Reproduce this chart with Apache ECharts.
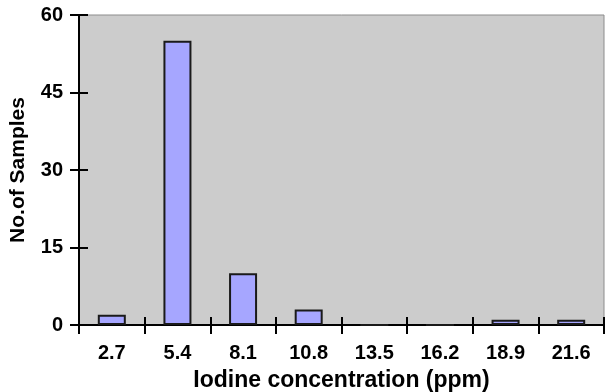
<!DOCTYPE html>
<html>
<head>
<meta charset="utf-8">
<script src="https://cdn.jsdelivr.net/npm/echarts@6/dist/echarts.min.js"></script>
<style>
  html, body { margin: 0; padding: 0; background: #fff; }
  #main { width: 606px; height: 392px; }
</style>
</head>
<body>
<div id="main"></div>
<script>
var categories = ['2.7', '5.4', '8.1', '10.8', '13.5', '16.2', '18.9', '21.6'];
var samples = [2, 55, 10, 3, 0, 0, 1, 1];
var yTicks = [0, 15, 30, 45, 60];

var chart = echarts.init(document.getElementById('main'));
var font = '"Liberation Sans", Arial, sans-serif';

var option = {
    animation: false,
    grid: {
        left: 79, right: 2, top: 15, bottom: 67,
        outerBoundsMode: 'none',
        containLabel: false,
        show: true,
        backgroundColor: '#cccccc',
        borderColor: '#8c8c8c',
        borderWidth: 1
    },
    xAxis: [{
        type: 'category',
        data: categories,
        position: 'bottom',
        name: 'Iodine concentration (ppm)',
        nameLocation: 'middle',
        nameGap: 44,
        nameTextStyle: { color: '#000', fontSize: 23, fontWeight: 'bold', fontFamily: font },
        axisLine: { lineStyle: { color: '#000', width: 2 } },
        axisTick: { show: true, inside: false, length: 9, lineStyle: { color: '#000', width: 2 } },
        axisLabel: { color: '#000', fontSize: 20, fontWeight: 'bold', fontFamily: font, margin: 18 },
        splitLine: { show: false }
    }, {
        // second copy only to draw the upper half of the crossing ticks
        type: 'category',
        data: categories,
        position: 'bottom',
        axisLine: { show: false },
        axisTick: { show: true, inside: true, length: 8, lineStyle: { color: '#000', width: 2 } },
        axisLabel: { show: false }
    }],
    yAxis: [{
        type: 'value',
        min: yTicks[0],
        max: yTicks[yTicks.length - 1],
        interval: 15,
        name: 'No.of Samples',
        nameLocation: 'middle',
        nameGap: 50,
        nameTextStyle: { color: '#000', fontSize: 21, fontWeight: 'bold', fontFamily: font },
        axisLine: { show: true, lineStyle: { color: '#000', width: 2 } },
        axisTick: { show: true, inside: false, length: 9, lineStyle: { color: '#000', width: 2 } },
        axisLabel: { color: '#000', fontSize: 20, fontWeight: 'bold', fontFamily: font, margin: 16 },
        splitLine: { show: false }
    }, {
        type: 'value',
        min: yTicks[0],
        max: yTicks[yTicks.length - 1],
        interval: 15,
        position: 'left',
        axisLine: { show: false },
        axisTick: { show: true, inside: true, length: 9, lineStyle: { color: '#000', width: 2 } },
        axisLabel: { show: false },
        splitLine: { show: false }
    }],
    series: [{
        type: 'bar',
        data: samples,
        barWidth: 28,
        itemStyle: { color: '#a6a6ff', borderColor: '#1a1a1a', borderWidth: 2 }
    }]
};
chart.setOption(option);
window.onresize = chart.resize;
</script>
</body>
</html>
